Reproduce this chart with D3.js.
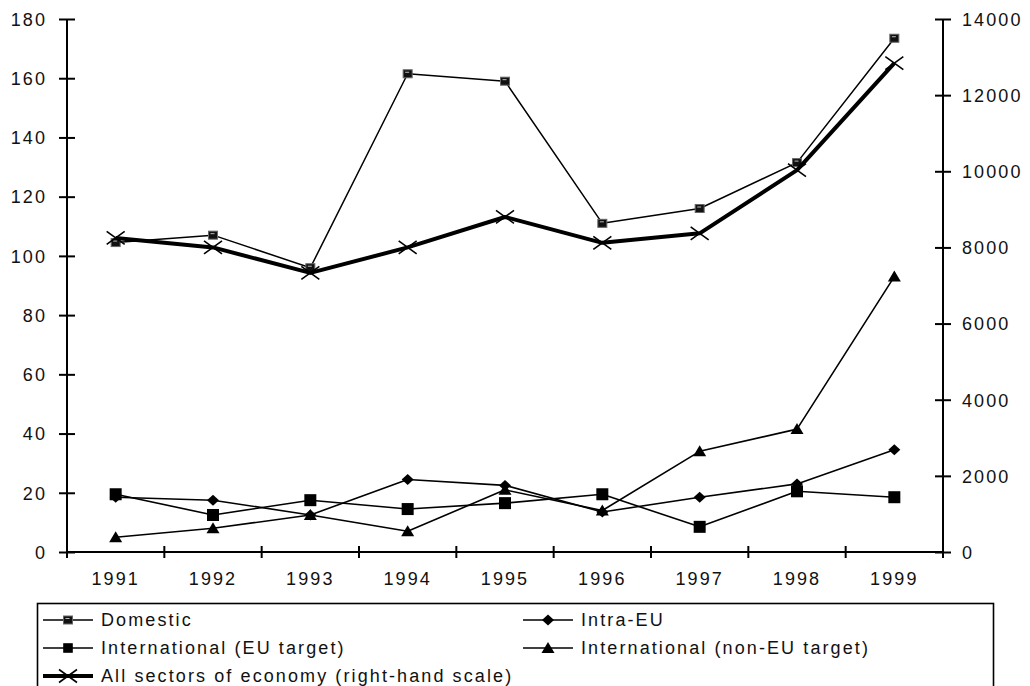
<!DOCTYPE html>
<html>
<head>
<meta charset="utf-8">
<script src="https://cdn.jsdelivr.net/npm/d3@7"></script>
<style>
  html, body { margin: 0; padding: 0; background: #fff; }
  svg { display: block; }
  text { font-family: "Liberation Sans", Arial, sans-serif; font-size: 18px; letter-spacing: 2.1px; fill: #111; }
</style>
</head>
<body>
<svg id="chart" width="1030" height="686"></svg>
<script>
const years = ["1991","1992","1993","1994","1995","1996","1997","1998","1999"];
const domestic   = [104.5, 107, 96, 161.5, 159, 111, 116, 131.5, 173.5];
const intraEU    = [18.5, 17.5, 12.5, 24.5, 22.5, 13.5, 18.5, 23, 34.5];
const intlEU     = [19.5, 12.5, 17.5, 14.5, 16.5, 19.5, 8.5, 20.5, 18.5];
const intlNonEU  = [5, 8, 12.5, 7, 21, 14, 34, 41.5, 93];
const allSectors = [8250, 8000, 7330, 8000, 8800, 8120, 8370, 10030, 12840];
const leftTicks  = [0, 20, 40, 60, 80, 100, 120, 140, 160, 180];
const rightTicks = [0, 2000, 4000, 6000, 8000, 10000, 12000, 14000];
const legendLabels = ["Domestic", "Intra-EU", "International (EU target)", "International (non-EU target)", "All sectors of economy (right-hand scale)"];

const svg = d3.select("#chart");
const x = d3.scaleBand().domain(years).range([67, 943]).padding(0);
const yL = d3.scaleLinear().domain([0, 180]).range([552, 19]);
const yR = d3.scaleLinear().domain([0, 14000]).range([552, 19]);
const cx = d => x(d) + x.bandwidth() / 2;

// ---- axes ----
const axisG = svg.append("g");
const gL = axisG.append("g").attr("transform", "translate(67,0)")
  .call(d3.axisLeft(yL).tickValues(leftTicks).tickSize(0).tickPadding(0));
gL.select(".domain").remove();
gL.selectAll(".tick text").remove();
gL.selectAll(".tick").append("line").attr("x1", -8).attr("x2", 8).attr("stroke", "#000").attr("stroke-width", 2);
gL.selectAll(".tick").append("text").attr("x", -20).attr("dy", "0.35em").attr("text-anchor", "end").text(d => d);
axisG.append("line").attr("x1", 67).attr("x2", 67).attr("y1", yL(180)).attr("y2", yL(0)).attr("stroke", "#000").attr("stroke-width", 2);

const gR = axisG.append("g").attr("transform", "translate(943,0)")
  .call(d3.axisRight(yR).tickValues(rightTicks).tickSize(0).tickPadding(0));
gR.select(".domain").remove();
gR.selectAll(".tick text").remove();
gR.selectAll(".tick").append("line").attr("x1", -8).attr("x2", 8).attr("stroke", "#000").attr("stroke-width", 2);
gR.selectAll(".tick").append("text").attr("x", 19).attr("dy", "0.35em").attr("text-anchor", "start").text(d => d);
axisG.append("line").attr("x1", 943).attr("x2", 943).attr("y1", yR(14000)).attr("y2", yR(0)).attr("stroke", "#000").attr("stroke-width", 2);

const gB = axisG.append("g").attr("transform", "translate(0,552)")
  .call(d3.axisBottom(x).tickSize(0).tickPadding(0));
gB.select(".domain").remove();
gB.selectAll(".tick text").attr("y", 27).attr("dy", "0.35em").attr("font-size", null).attr("font-family", null).attr("fill", null);
axisG.append("line").attr("x1", 67).attr("x2", 943).attr("y1", 552).attr("y2", 552).attr("stroke", "#000").attr("stroke-width", 2);
const bounds = years.map(d => x(d)).concat([x.range()[1]]);
axisG.selectAll(".xb").data(bounds).enter().append("line")
  .attr("x1", d => d).attr("x2", d => d).attr("y1", 546).attr("y2", 558)
  .attr("stroke", "#000").attr("stroke-width", 2);

// ---- markers ----
function drawMarker(g, type, px, py, k) {
  k = k || 1;
  if (type === "domsq") {
    g.append("rect").attr("x", px - 4.5*k).attr("y", py - 4*k).attr("width", 9*k).attr("height", 8*k)
      .attr("fill", "#111").attr("stroke", "#666").attr("stroke-width", 1);
    g.append("line").attr("x1", px - 2.5*k).attr("x2", px + 1.5*k).attr("y1", py - 1.5*k).attr("y2", py - 1.5*k)
      .attr("stroke", "#bbb").attr("stroke-width", 1);
  } else if (type === "square") {
    g.append("rect").attr("x", px - 6*k).attr("y", py - 6*k).attr("width", 12*k).attr("height", 12*k).attr("fill", "#000");
  } else if (type === "diamond") {
    g.append("path").attr("d", `M${px},${py-5.5*k}L${px+6*k},${py}L${px},${py+5.5*k}L${px-6*k},${py}Z`).attr("fill", "#000");
  } else if (type === "triangle") {
    g.append("path").attr("d", `M${px},${py-6*k}L${px+6.5*k},${py+5*k}L${px-6.5*k},${py+5*k}Z`).attr("fill", "#000");
  } else if (type === "x") {
    g.append("path").attr("d", `M${px-9*k},${py-6.5*k}L${px+9*k},${py+6.5*k}M${px-9*k},${py+6.5*k}L${px+9*k},${py-6.5*k}`)
      .attr("stroke", "#000").attr("stroke-width", 1.6).attr("fill", "none");
  }
}

const series = [
  { name: legendLabels[2], values: intlEU, scale: yL, marker: "square", width: 1.6 },
  { name: legendLabels[1], values: intraEU, scale: yL, marker: "diamond", width: 1.6 },
  { name: legendLabels[3], values: intlNonEU, scale: yL, marker: "triangle", width: 1.6 },
  { name: legendLabels[0], values: domestic, scale: yL, marker: "domsq", width: 1.5 },
  { name: legendLabels[4], values: allSectors, scale: yR, marker: "x", width: 4 }
];

const plot = svg.append("g");
series.forEach(s => {
  const line = d3.line().x((d, i) => cx(years[i])).y(d => s.scale(d));
  plot.append("path").datum(s.values).attr("d", line)
    .attr("fill", "none").attr("stroke", "#000").attr("stroke-width", s.width).attr("stroke-linejoin", "round");
  const mg = plot.append("g");
  s.values.forEach((v, i) => drawMarker(mg, s.marker, cx(years[i]), s.scale(v)));
});

// ---- legend ----
const lg = svg.append("g");
lg.append("rect").attr("x", 37.5).attr("y", 603.5).attr("width", 956).attr("height", 120)
  .attr("fill", "#fff").attr("stroke", "#000").attr("stroke-width", 1.6);
const legendItems = [
  { label: legendLabels[0], marker: "domsq", width: 1.6, lx: 43, ly: 620, k: 1 },
  { label: legendLabels[1], marker: "diamond", width: 1.6, lx: 523, ly: 620, k: 1 },
  { label: legendLabels[2], marker: "square", width: 1.6, lx: 43, ly: 648, k: 0.8 },
  { label: legendLabels[3], marker: "triangle", width: 1.6, lx: 523, ly: 648, k: 1 },
  { label: legendLabels[4], marker: "x", width: 4, lx: 43, ly: 676, k: 1 }
];
legendItems.forEach(it => {
  const g = lg.append("g");
  g.append("line").attr("x1", it.lx).attr("x2", it.lx + 50).attr("y1", it.ly).attr("y2", it.ly)
    .attr("stroke", "#000").attr("stroke-width", it.width);
  drawMarker(g, it.marker, it.lx + 25, it.ly, it.k);
  g.append("text").attr("x", it.lx + 58).attr("y", it.ly).attr("dy", "0.35em").text(it.label);
});
</script>
</body>
</html>
